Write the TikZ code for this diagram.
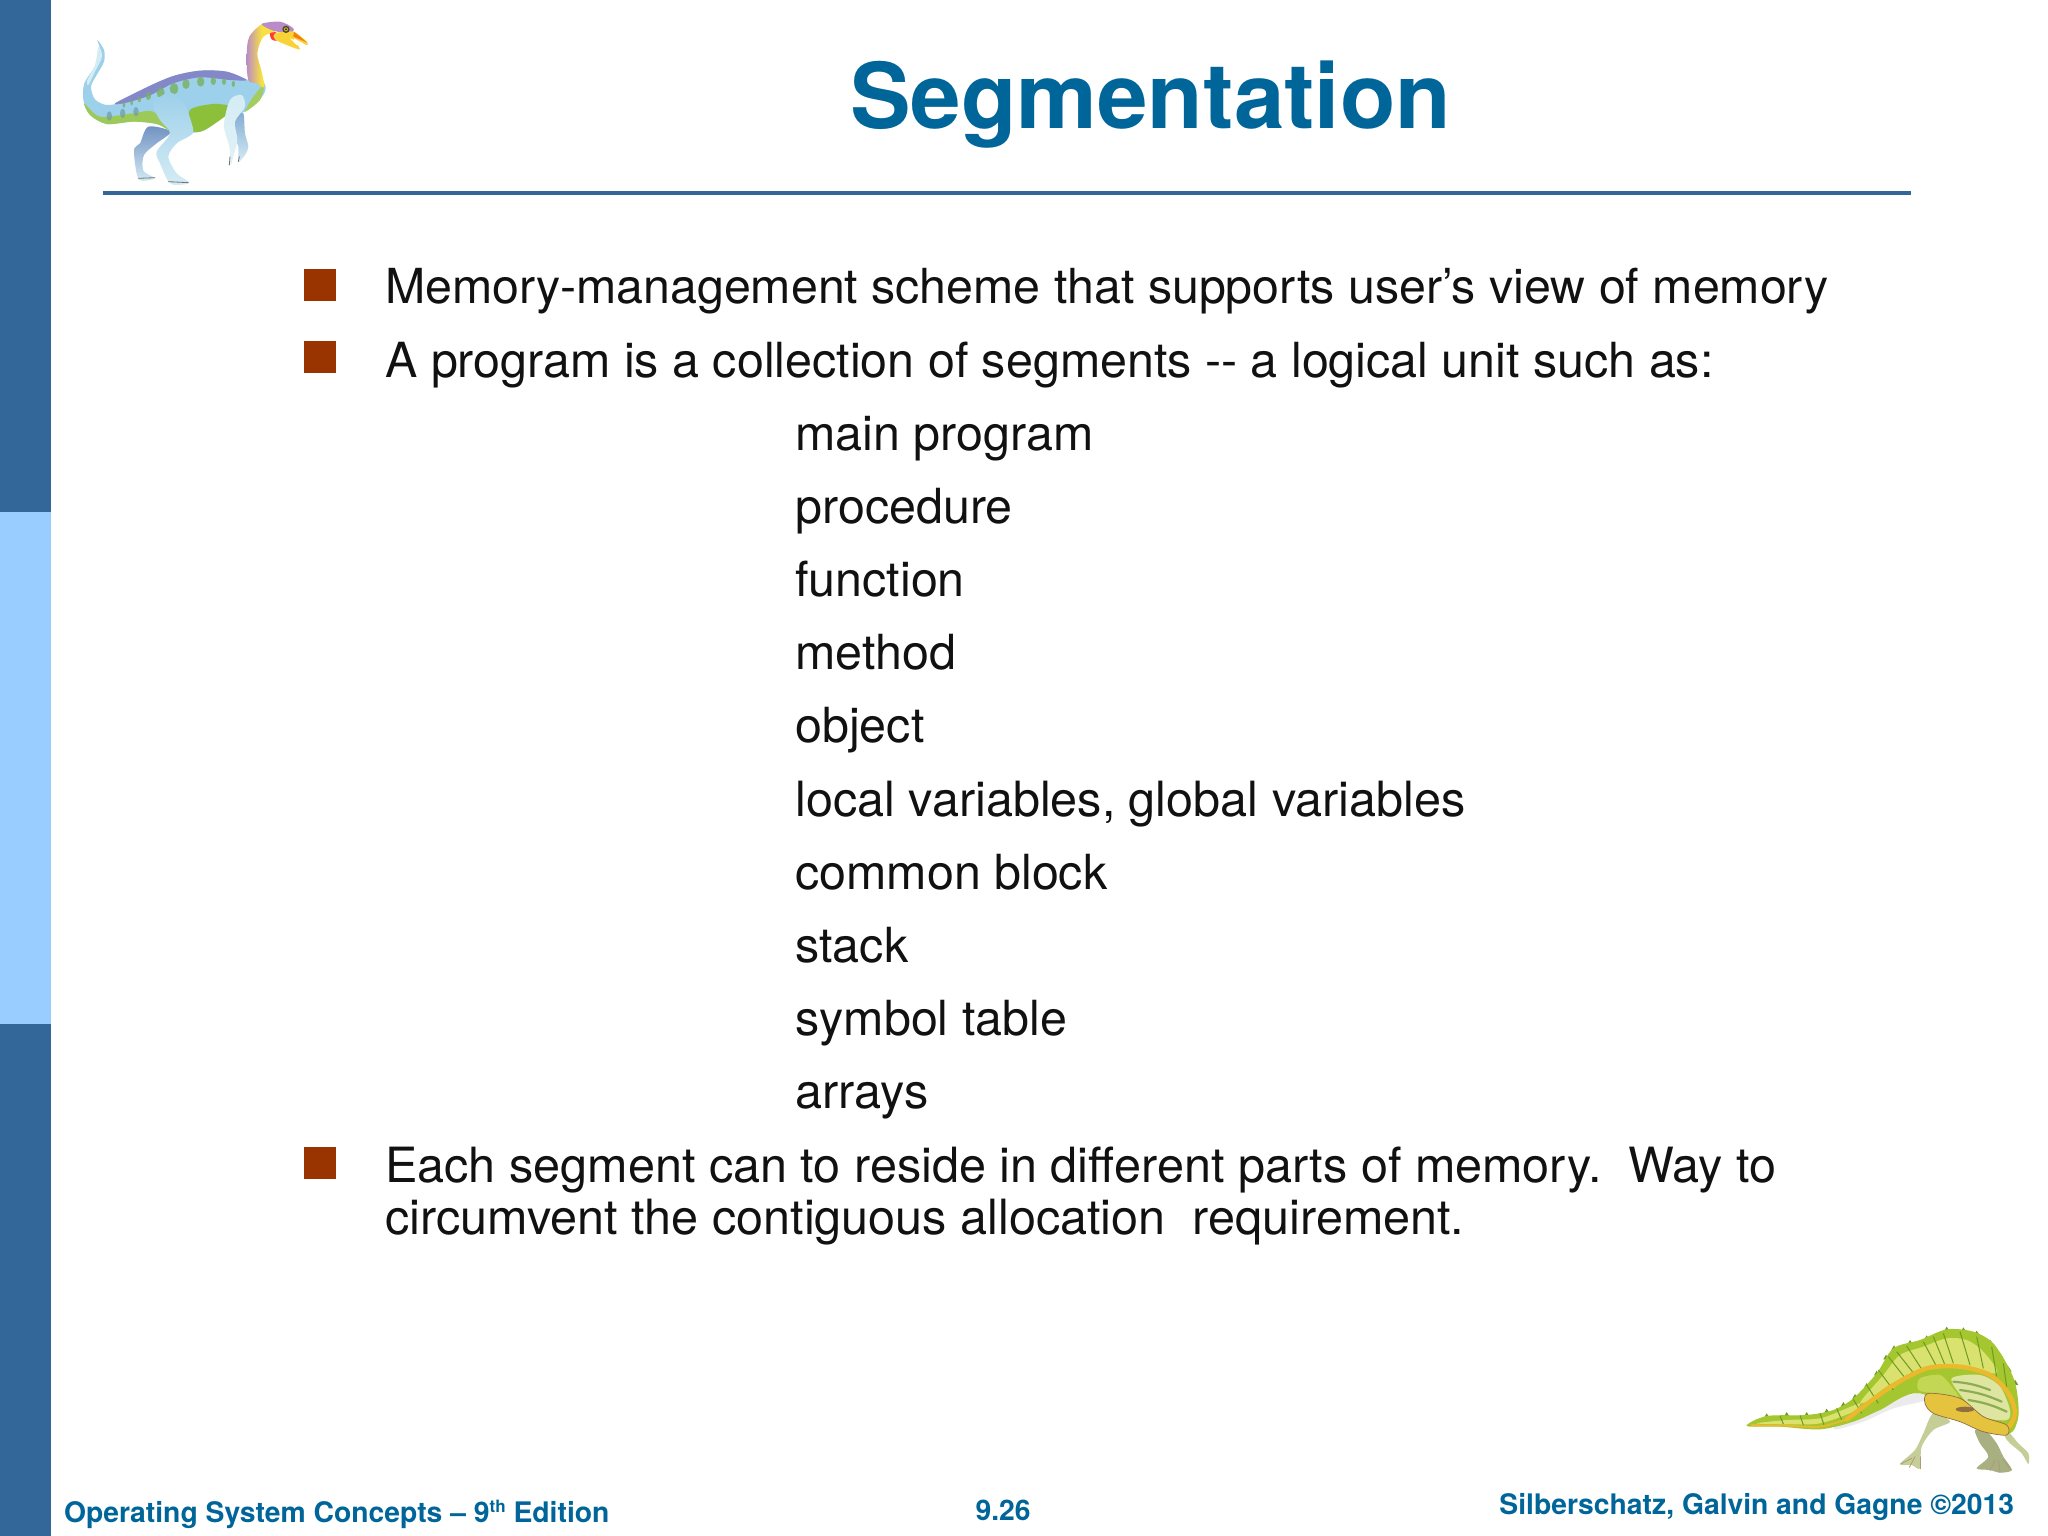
\documentclass[tikz,border=0pt]{standalone}
\usepackage{fontspec}
\setmainfont{TeX Gyre Heros}
\definecolor{barDark}{HTML}{336699}
\definecolor{barLight}{HTML}{99CCFF}
\definecolor{titleBlue}{HTML}{006699}
\definecolor{bulletRed}{HTML}{993300}
\definecolor{bodyInk}{HTML}{111111}
\definecolor{dA}{HTML}{9DD0EA}
\definecolor{dB}{HTML}{8488C8}
\definecolor{dC}{HTML}{8CBF3A}
\definecolor{dD}{HTML}{D5ECF4}
\definecolor{dE}{HTML}{6F90C2}
\definecolor{dF}{HTML}{78B060}
\definecolor{dG}{HTML}{F8E040}
\definecolor{dH}{HTML}{B98CC8}
\definecolor{gA}{HTML}{A4C62E}
\definecolor{gB}{HTML}{D9E26E}
\definecolor{gC}{HTML}{6F9A25}
\definecolor{gD}{HTML}{EAB92E}
\definecolor{gE}{HTML}{C6CE98}
\definecolor{gF}{HTML}{DDE5A0}
\definecolor{gG}{HTML}{8F6E40}
\tikzset{
  bodytext/.style={anchor=base west,inner sep=0pt,outer sep=0pt,text=bodyInk,font=\fontsize{48.4}{50}\selectfont},
  widetext/.style={bodytext,font=\fontsize{48.55}{50}\selectfont},
  foot/.style={anchor=base west,inner sep=0pt,outer sep=0pt,text=titleBlue,font=\fontsize{28.3}{32}\selectfont\bfseries},
  bulletbox/.style={fill=bulletRed,draw=none},
  sk/.style={line join=round,line cap=round}
}
\begin{document}
\begin{tikzpicture}[x=1pt,y=-1pt]
\useasboundingbox (0,0) rectangle (2048,1536);
\fill[white] (0,0) rectangle (2048,1536);
% side bar
\fill[barDark] (0,0) rectangle (51,512);
\fill[barLight] (0,512) rectangle (51,1024);
\fill[barDark] (0,1024) rectangle (51,1536);
% rule
\fill[barDark] (102.5,190.5) rectangle (1911,194.5);
% title
\node[anchor=base west,inner sep=0pt,text=titleBlue,font=\fontsize{90.8}{96}\selectfont\bfseries] (title) at (850,129) {Segmentation};
% bullets
\fill[bulletbox] (304,269) rectangle (336,300.5);
\fill[bulletbox] (304,341) rectangle (336,372.5);
\fill[bulletbox] (304,1147) rectangle (336,1178.5);
% body
\node[bodytext,font=\fontsize{48.31}{50}\selectfont] (l1) at (385.3,303.7) {Memory-management scheme that supports user’s view of memory};
\node[bodytext] (l2) at (385.3,377.3) {A program is a collection of segments -{}- a logical unit such as:};
\node[bodytext] (s1) at (795.4,450) {main program};
\node[bodytext] (s2) at (795.4,523.1) {procedure};
\node[bodytext] (s3) at (795.4,596.3) {function};
\node[bodytext] (s4) at (795.4,669.4) {method};
\node[bodytext] (s5) at (795.4,742.9) {object};
\node[widetext] (s6) at (795.4,816.3) {local variables, global variables};
\node[bodytext] (s7) at (795.4,889.3) {common block};
\node[bodytext] (s8) at (795.4,962) {stack};
\node[bodytext] (s9) at (795.4,1035.1) {symbol table};
\node[widetext] (s10) at (795.4,1108.7) {arrays};
\node[widetext] (l3) at (385.3,1182) {Each segment can to reside in different parts of memory.\ \ Way to};
\node[widetext] (l4) at (385.3,1234.2) {circumvent the contiguous allocation\ \ requirement.};
% footer
\node[foot] (f1) at (64,1522) {Operating System Concepts – 9\raisebox{10pt}{\fontsize{17}{18}\selectfont th} Edition};
\node[foot] (f2) at (975.6,1520) {9.26};
\node[foot] (f3) at (1499.4,1514) {Silberschatz, Galvin and Gagne ©2013};
% blue dinosaur
\begin{scope}[xscale=1/3,yscale=1/3]
 % far legs
 \shade[sk,top color=dE,bottom color=dD] plot[smooth cycle] coordinates {(445,380)(420,430)(403,445)(405,490)(418,540)(464,535)(430,512)(432,465)(470,430)(512,395)};
 \shade[sk,top color=dE!60!dA,bottom color=dD] plot[smooth cycle] coordinates {(710,345)(730,340)(735,400)(745,440)(735,465)(715,485)(715,440)(700,400)};
 % body
 \fill[sk,fill=dA] plot[smooth cycle] coordinates {(292,120)(312,150)(312,185)(290,225)(273,260)(285,298)(320,315)(370,305)(440,262)(520,228)(600,212)(680,215)(745,240)(793,250)(790,285)(735,335)(680,345)(610,392)(540,398)(470,372)(400,365)(320,372)(270,345)(250,300)(253,250)(285,200)(303,160)};
 % tail highlight
 \fill[sk,fill=dD] plot[smooth cycle] coordinates {(296,140)(306,170)(285,215)(265,255)(262,240)(285,195)};
 % purple back
 \fill[sk,fill=dB] plot[smooth cycle] coordinates {(345,310)(440,262)(520,228)(600,212)(680,215)(740,240)(690,240)(600,232)(520,250)(450,286)(380,308)};
 % green belly
 \fill[sk,fill=dC] plot[smooth cycle] coordinates {(570,330)(640,312)(695,320)(680,345)(610,392)(575,390)};
 \fill[sk,fill=dC!85!white] plot[smooth cycle] coordinates {(253,310)(300,350)(400,340)(460,335)(515,394)(470,372)(400,365)(320,372)(270,345)};
 \fill[sk,fill=dC!80!white] plot[smooth cycle] coordinates {(735,335)(760,290)(792,255)(780,300)};
 % flank spots
 \foreach \px/\py/\pr in {482/278/12,522/266/13,558/252/11,602/245/11,640/243/8,445/288/8,672/245/6,700/252/5,418/298/5,395/308/4,372/315/4}{
   \fill[dF,opacity=0.8] (\px,\py) ellipse ({\pr} and {\pr+4});}
 \foreach \px/\py in {328/348,368/340,408/335}{
   \fill[dE!70!dF,opacity=0.7] (\px,\py) ellipse (8 and 14);}
 % near leg and thigh
 \shade[sk,top color=dA,bottom color=dD] plot[smooth cycle] coordinates {(458,310)(510,278)(552,310)(580,390)(565,410)(530,430)(505,470)(530,520)(566,545)(555,553)(510,550)(480,490)(470,455)(510,400)(480,360)};
 % arm
 \shade[sk,top color=dD,bottom color=dD!70!white] plot[smooth cycle] coordinates {(690,300)(725,285)(735,320)(705,365)(712,420)(700,470)(692,495)(688,440)(672,375)};
 % toes
 \foreach \ax/\ay/\bx/\by in {415/535/465/533,505/545/565/548,690/470/688/495,718/470/715/485}{
   \draw[sk,black!55,line width=0.8] (\ax,\ay) -- (\bx,\by);}
 % neck
 \shade[sk,left color=dH,right color=dG,middle color=dG] plot[smooth cycle] coordinates {(745,240)(740,170)(748,110)(790,70)(820,80)(825,95)(790,110)(772,160)(785,215)(793,262)(770,250)};
 % head
 \fill[sk,fill=dH] plot[smooth cycle] coordinates {(785,72)(840,65)(880,85)(870,100)(820,92)};
 \fill[sk,fill=red!70!pink] plot[smooth cycle] coordinates {(810,100)(830,98)(830,122)(815,118)};
 \fill[sk,fill=dG!85!orange] plot[smooth cycle] coordinates {(825,100)(880,95)(920,125)(920,135)(880,115)(900,148)(860,135)(825,118)};
 \fill[white] (870,115) -- (895,125) -- (890,135) -- cycle;
 \fill[orange!80!brown] (882,95) -- (922,128) -- (880,110) -- cycle;
 \fill[black!60!olive] (858,88) circle (11);
 \fill[dG!60!olive] (858,88) circle (6);
 \fill[black] (858,88) circle (2.5);
\end{scope}
% green dinosaur
\begin{scope}[shift={(1720,1310)},xscale=1/3,yscale=1/3]
 % legs
 \fill[sk,fill=gE] plot[smooth cycle] coordinates {(860,360)(895,400)(925,430)(925,462)(905,430)(870,400)(855,380)};
 \fill[sk,fill=gE!85!black] plot[smooth cycle] coordinates {(765,360)(800,365)(830,400)(850,440)(875,480)(840,488)(810,480)(770,475)(805,440)(780,400)};
 \fill[sk,fill=gE] plot[smooth cycle] coordinates {(640,310)(690,335)(640,360)(605,410)(600,475)(575,465)(540,462)(585,420)(610,370)};
 \foreach \ax/\ay/\bx/\by in {600/440/600/476,585/440/568/472,575/445/542/462,825/450/810/482,835/450/840/488,850/450/875/480}{
   \draw[sk,gG!70!white,line width=0.8] (\ax,\ay) -- (\bx,\by);}
 % belly
 \fill[sk,fill=black!8!white] plot[smooth cycle] coordinates {(350,345)(440,310)(520,265)(610,250)(620,270)(520,295)(430,335)(350,358)};
 % spikes
 \foreach \px/\py in {140/316,200/312,260/312,320/302,370/282,405/258,440/225,470/188,498/140,522/112,570/96,620/82,680/56,730/58,770/68,810/95,840/135,865/175,885/215}{
   \fill[gC] (\px-8,\py+8) -- (\px,\py-6) -- (\px+10,\py+10) -- cycle;}
 % green sail with tail
 \fill[sk,fill=gA] plot[smooth cycle] coordinates {(80,348)(140,318)(260,315)(340,300)(400,265)(470,190)(520,115)(600,90)(680,58)(760,65)(820,100)(870,180)(890,240)(895,320)(870,370)(800,345)(600,250)(480,300)(400,335)(300,358)(180,350)};
 \fill[sk,fill=gB] plot[smooth cycle] coordinates {(420,280)(490,195)(540,135)(610,110)(680,85)(740,90)(790,125)(830,190)(700,165)(600,180)(510,240)};
 \fill[sk,fill=gB] plot[smooth cycle] coordinates {(110,340)(200,330)(300,325)(380,295)(420,280)(400,305)(300,340)(200,343)};
 % ribs
 \foreach \ax/\ay/\bx/\by in {180/318/190/342,240/316/250/345,300/310/312/345,350/295/365/330,400/268/425/310,440/225/475/280,475/180/520/240,505/140/560/210,530/125/585/195,560/108/610/185,610/95/650/170,640/80/675/165,670/70/700/160,720/65/750/165,770/80/790/175,815/110/830/200,850/160/860/230}{
   \draw[gC,line width=1] (\ax,\ay) -- (\bx,\by);}
 % yellow stripe
 \draw[sk,gD,line width=1.8] plot[smooth] coordinates {(95,345)(200,347)(300,350)(380,328)};
 \draw[sk,gD,line width=4.5] plot[smooth] coordinates {(380,328)(450,275)(520,225)(620,175)(720,170)(810,195)(865,250)(885,310)(860,355)(800,350)};
 % body panel
 \fill[sk,fill=gF] plot[smooth cycle] coordinates {(695,205)(780,195)(840,230)(870,300)(860,330)(790,320)(730,265)};
 \foreach \ax/\ay/\bx/\by in {700/215/810/240,720/240/845/275,745/270/860/305}{
   \draw[gC!80!white,line width=2.2,line cap=round] (\ax,\ay) to[bend left=8] (\bx,\by);}
 \fill[sk,fill=gB!60!gA] plot[smooth cycle] coordinates {(600,205)(660,195)(695,230)(715,265)(640,250)(595,240)};
 % head
 \fill[sk,fill=gD!75!gB,draw=gG,line width=0.7] plot[smooth cycle] coordinates {(625,250)(720,265)(790,320)(860,345)(860,375)(790,365)(720,335)(640,310)(615,280)};
 \fill[gG] (735,298) ellipse (28 and 8);
\end{scope}
\end{tikzpicture}
\end{document}
